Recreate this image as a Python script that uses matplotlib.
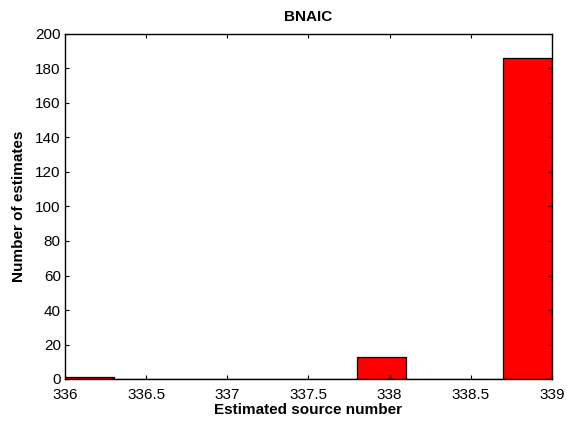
import matplotlib
matplotlib.use("Agg")
import matplotlib.pyplot as plt

plt.rcParams['font.family'] = ['Liberation Sans', 'DejaVu Sans']

# Histogram bins (left edges), bin width and counts
bin_edges_left = [336.0, 336.3, 336.6, 336.9, 337.2, 337.5, 337.8, 338.1, 338.4, 338.7]
bin_width = 0.3
counts = [1, 0, 0, 0, 0, 0, 13, 0, 0, 186]

x_ticks = [336, 336.5, 337, 337.5, 338, 338.5, 339]
x_tick_labels = ['336', '336.5', '337', '337.5', '338', '338.5', '339']
y_ticks = [0, 20, 40, 60, 80, 100, 120, 140, 160, 180, 200]

fig = plt.figure(figsize=(5.67, 4.26), dpi=100)
# axes box: x 65..552 px, y 34..379 px
ax = fig.add_axes([65 / 567, 1 - 379 / 426, 487 / 567, 345 / 426])

ax.bar(bin_edges_left, counts, width=bin_width, align='edge',
       facecolor='#ff0000', edgecolor='black', linewidth=0.9)

ax.set_xlim(336, 339)
ax.set_ylim(0, 200)
ax.set_xticks(x_ticks)
ax.set_xticklabels(x_tick_labels)
ax.set_yticks(y_ticks)

ax.tick_params(direction='in', length=3, width=0.8, labelsize=11,
               top=True, right=True)
ax.tick_params(axis='x', pad=6.5)
ax.tick_params(axis='y', pad=3)
for sp in ax.spines.values():
    sp.set_linewidth(1.0)

ax.set_title('BNAIC', fontsize=11, fontweight='bold', pad=9)
ax.set_xlabel('Estimated source number', fontsize=11, fontweight='bold', labelpad=1)
ax.set_ylabel('Number of estimates', fontsize=11, fontweight='bold', labelpad=7)

fig.savefig('out.png', dpi=100, facecolor='white')
